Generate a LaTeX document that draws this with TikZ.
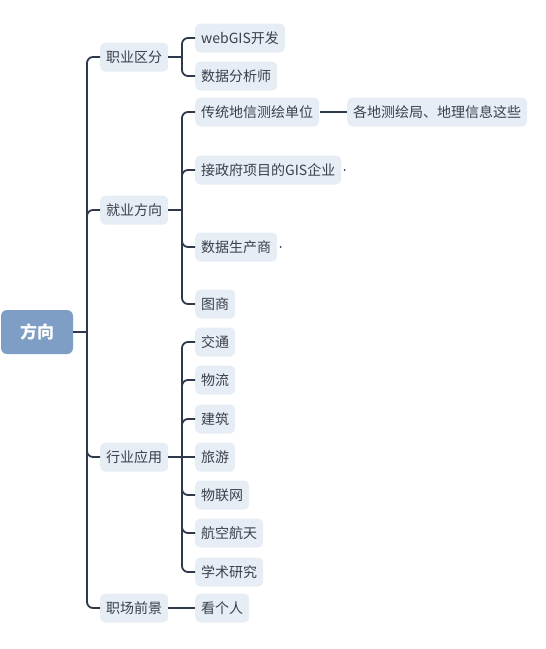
\documentclass[tikz,border=0pt]{standalone}
\usepackage{fontspec}
\setmainfont{Noto Sans CJK SC}
\usetikzlibrary{positioning}

\definecolor{rootfill}{HTML}{7F9EC6}
\definecolor{boxfill}{HTML}{E7EDF5}
\definecolor{boxtext}{HTML}{3A404A}
\definecolor{linecol}{HTML}{2E3A4C}

\begin{document}
\begin{tikzpicture}[
    x=1pt, y=-1pt,
    font=\fontsize{14}{16}\selectfont,
    topic/.style={fill=boxfill, text=boxtext, rounded corners=5pt,
        minimum height=29pt, inner xsep=6pt, inner ysep=0pt, anchor=west},
    rootbox/.style={fill=rootfill, text=white, rounded corners=6pt,
        minimum width=72pt, minimum height=44pt,
        font=\fontsize{17}{20}\selectfont\bfseries},
    link/.style={draw=linecol, line width=1.8pt, rounded corners=6pt},
    dotmark/.style={circle, fill=linecol, inner sep=0pt, minimum size=2pt}
]

    % Frame
    \useasboundingbox (0,0) rectangle (546,649);

    % Root
    \node[rootbox] (dir) at (37,332) {方向};

    % Main branches
    \node[topic] (cat) at (100,57) {职业区分};
    \node[topic] (emp) at (100,210) {就业方向};
    \node[topic] (ind) at (100,457) {行业应用};
    \node[topic] (pro) at (100,608) {职场前景};

    % Sub topics: 职业区分
    \node[topic] (webgis) at (195,38) {webGIS开发};
    \node[topic] (analyst) at (195,76) {数据分析师};

    % Sub topics: 就业方向
    \node[topic] (survey) at (195,112) {传统地信测绘单位};
    \node[topic] (govgis) at (195,170) {接政府项目的GIS企业};
    \node[topic] (producer) at (195,247) {数据生产商};
    \node[topic] (mapco) at (195,304) {图商};
    \node[topic] (bureau) at (347,112) {各地测绘局、地理信息这些};

    % Collapsed markers
    \node[dotmark, right=2pt of govgis] (govdot) {};
    \node[dotmark, right=2pt of producer] (proddot) {};

    % Sub topics: 行业应用
    \node[topic] (traffic) at (195,342) {交通};
    \node[topic] (logistics) at (195,380) {物流};
    \node[topic] (building) at (195,419) {建筑};
    \node[topic] (tourism) at (195,457) {旅游};
    \node[topic] (iot) at (195,495) {物联网};
    \node[topic] (aero) at (195,533) {航空航天};
    \node[topic] (academia) at (195,572) {学术研究};

    % Sub topics: 职场前景
    \node[topic] (personal) at (195,608) {看个人};

    % Trunk
    \coordinate (trunk) at (87,332);
    \draw[link] (dir.east) -- (trunk);
    \foreach \c in {cat, emp, ind, pro}
        \draw[link] (trunk) |- (\c.west);

    % Forks
    \coordinate (catfork) at (182,57);
    \draw[link] (cat.east) -- (catfork);
    \foreach \c in {webgis, analyst}
        \draw[link] (catfork) |- (\c.west);

    \coordinate (empfork) at (182,210);
    \draw[link] (emp.east) -- (empfork);
    \foreach \c in {survey, govgis, producer, mapco}
        \draw[link] (empfork) |- (\c.west);
    \draw[link] ([xshift=1pt]survey.east) -- (bureau.west);

    \coordinate (indfork) at (182,457);
    \draw[link] (ind.east) -- (tourism.west);
    \foreach \c in {traffic, logistics, building, iot, aero, academia}
        \draw[link] (indfork) |- (\c.west);

    \draw[link] (pro.east) -- (personal.west);

\end{tikzpicture}
\end{document}
